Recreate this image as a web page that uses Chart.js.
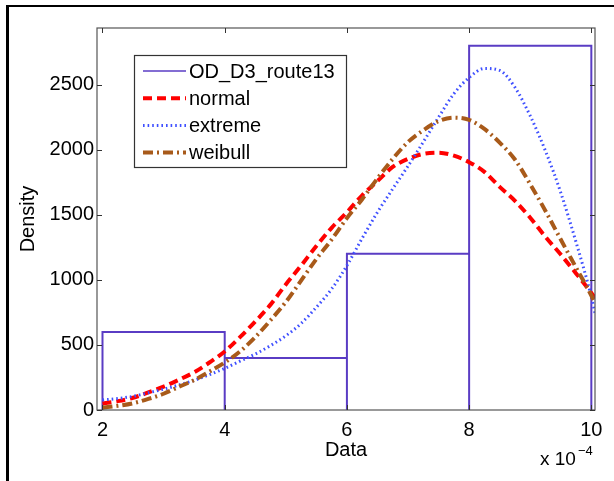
<!DOCTYPE html>
<html>
<head>
<meta charset="utf-8">
<script src="https://cdn.jsdelivr.net/npm/chart.js@4.4.1/dist/chart.umd.min.js"></script>
<style>
  html, body { margin: 0; padding: 0; background: #fff; }
  #wrap { position: relative; width: 614px; height: 481px; }
</style>
</head>
<body>
<div id="wrap"><canvas id="c" width="614" height="481"></canvas></div>
<script>
// ---- data (x in units of 1e-4) ----
const binEdges = [2, 4, 6, 8, 10];
const binDensity = [600, 400, 1200, 2800];
const xGrid = [2, 2.25, 2.5, 2.75, 3, 3.25, 3.5, 3.75, 4, 4.25, 4.5, 4.75, 5, 5.25, 5.5, 5.75, 6, 6.25, 6.5, 6.75, 7, 7.25, 7.5, 7.75, 8, 8.25, 8.5, 8.75, 9, 9.25, 9.5, 9.75, 10, 10.06];
const normalVals = [50, 68, 94, 135, 180, 232, 290, 365, 450, 560, 680, 810, 965, 1110, 1260, 1400, 1520, 1650, 1760, 1868, 1930, 1968, 1978, 1955, 1905, 1830, 1715, 1608, 1478, 1330, 1195, 1050, 900, 860];
const extremeVals = [77, 88, 105, 132, 160, 192, 228, 272, 320, 375, 430, 495, 570, 665, 790, 930, 1110, 1320, 1520, 1700, 1875, 2060, 2250, 2430, 2555, 2625, 2610, 2480, 2260, 1990, 1670, 1290, 870, 745];
const weibullVals = [18, 32, 52, 85, 125, 178, 230, 295, 365, 450, 560, 690, 830, 995, 1160, 1310, 1475, 1620, 1780, 1930, 2060, 2150, 2220, 2247, 2230, 2160, 2055, 1925, 1735, 1530, 1310, 1095, 880, 820];
const xTicks = [2, 4, 6, 8, 10];
const yTicks = [0, 500, 1000, 1500, 2000, 2500];
const seriesNames = ['OD_D3_route13', 'normal', 'extreme', 'weibull'];

// histogram outline built from bins
const histPts = [];
for (let i = 0; i < binDensity.length; i++) {
  histPts.push({x: binEdges[i], y: 0});
  histPts.push({x: binEdges[i], y: binDensity[i]});
  histPts.push({x: binEdges[i + 1], y: binDensity[i]});
  histPts.push({x: binEdges[i + 1], y: 0});
}
const toPts = vals => xGrid.map((x, i) => ({x: x, y: vals[i]}));

const FONT = '"Liberation Sans", Arial, Helvetica, sans-serif';
const styles = [
  {color: '#5a3cc4', width: 2, dash: []},
  {color: '#ff0000', width: 4, dash: [9, 5]},
  {color: '#3f50ff', width: 3, dash: [1.6, 3]},
  {color: '#a85a1a', width: 4, dash: [10, 4, 2, 4]}
];

const decorPlugin = {
  id: 'decor',
  beforeDraw(chart) {
    const ctx = chart.ctx;
    ctx.save();
    ctx.fillStyle = '#fff';
    ctx.fillRect(0, 0, chart.width, chart.height);
    ctx.restore();
  },
  afterDraw(chart) {
    const ctx = chart.ctx;
    const a = chart.chartArea;
    const xs = chart.scales.x, ys = chart.scales.y;
    ctx.save();
    // axes box
    ctx.strokeStyle = '#555';
    ctx.lineWidth = 1.2;
    ctx.setLineDash([]);
    ctx.strokeRect(a.left, a.top, a.right - a.left, a.bottom - a.top);
    // inward ticks
    ctx.strokeStyle = '#333';
    ctx.lineWidth = 1;
    ctx.beginPath();
    xTicks.forEach(v => {
      const px = Math.round(xs.getPixelForValue(v)) + 0.5;
      ctx.moveTo(px, a.bottom); ctx.lineTo(px, a.bottom - 5);
      ctx.moveTo(px, a.top); ctx.lineTo(px, a.top + 5);
    });
    yTicks.forEach(v => {
      const py = Math.round(ys.getPixelForValue(v)) + 0.5;
      ctx.moveTo(a.left, py); ctx.lineTo(a.left + 5, py);
      ctx.moveTo(a.right, py); ctx.lineTo(a.right - 5, py);
    });
    ctx.stroke();
    // legend
    const lx = 134.5, ly = 55.5, lw = 212, lh = 112;
    ctx.fillStyle = '#fff';
    ctx.fillRect(lx, ly, lw, lh);
    ctx.strokeStyle = '#333';
    ctx.lineWidth = 1.2;
    ctx.strokeRect(lx, ly, lw, lh);
    const rows = [71, 98.3, 125.5, 152.5];
    seriesNames.forEach((name, i) => {
      const s = styles[i];
      ctx.beginPath();
      ctx.strokeStyle = s.color;
      ctx.lineWidth = i === 0 ? 1.5 : s.width;
      ctx.setLineDash(s.dash);
      ctx.moveTo(143, rows[i]);
      ctx.lineTo(186, rows[i]);
      ctx.stroke();
      ctx.setLineDash([]);
      ctx.fillStyle = '#000';
      ctx.font = '20px ' + FONT;
      ctx.textBaseline = 'middle';
      ctx.textAlign = 'left';
      ctx.fillText(name, 189, rows[i] + 1);
    });
    // exponent label
    ctx.fillStyle = '#000';
    ctx.textBaseline = 'alphabetic';
    ctx.textAlign = 'left';
    ctx.font = '19px ' + FONT;
    ctx.fillText('x 10', 540, 465);
    ctx.font = '13px ' + FONT;
    ctx.fillText('\u22124', 578, 455);
    // outer frame (top and left black rules)
    ctx.fillStyle = '#000';
    ctx.fillRect(6, 5, chart.width - 6, 2);
    ctx.fillRect(6, 5, 3, chart.height - 5);
    ctx.restore();
  }
};

const datasets = [
  {label: seriesNames[0], data: histPts, order: 4, tension: 0},
  {label: seriesNames[1], data: toPts(normalVals), order: 3},
  {label: seriesNames[2], data: toPts(extremeVals), order: 2},
  {label: seriesNames[3], data: toPts(weibullVals), order: 1}
].map((d, i) => Object.assign(d, {
  borderColor: styles[i].color,
  borderWidth: styles[i].width,
  borderDash: styles[i].dash,
  borderCapStyle: 'butt',
  pointRadius: 0,
  fill: false,
  cubicInterpolationMode: i === 0 ? 'default' : 'monotone'
}));

new Chart(document.getElementById('c'), {
  type: 'line',
  data: {datasets: datasets},
  options: {
    responsive: false,
    animation: false,
    devicePixelRatio: 1,
    layout: {padding: {top: 28, right: 19, left: 0, bottom: 0}},
    plugins: {legend: {display: false}, tooltip: {enabled: false}},
    scales: {
      x: {
        type: 'linear', min: 1.91, max: 10.06,
        afterBuildTicks: s => { s.ticks = xTicks.map(v => ({value: v})); },
        afterFit: s => { s.height = 71; },
        grid: {display: false, drawTicks: false},
        border: {display: false},
        ticks: {color: '#000', font: {family: FONT, size: 20}, padding: 8, maxRotation: 0, autoSkip: false, callback: v => String(v)},
        title: {display: true, text: 'Data', color: '#000', font: {family: FONT, size: 20}, padding: {top: 0, bottom: 19}}
      },
      y: {
        type: 'linear', min: 0, max: 2936,
        afterBuildTicks: s => { s.ticks = yTicks.map(v => ({value: v})); },
        afterFit: s => { s.width = 97; },
        grid: {display: false, drawTicks: false},
        border: {display: false},
        ticks: {color: '#000', font: {family: FONT, size: 20}, padding: 3, autoSkip: false, callback: v => String(v)},
        title: {display: true, text: 'Density', color: '#000', font: {family: FONT, size: 20}, padding: {top: 16, bottom: 0}}
      }
    }
  },
  plugins: [decorPlugin]
});
</script>
</body>
</html>
